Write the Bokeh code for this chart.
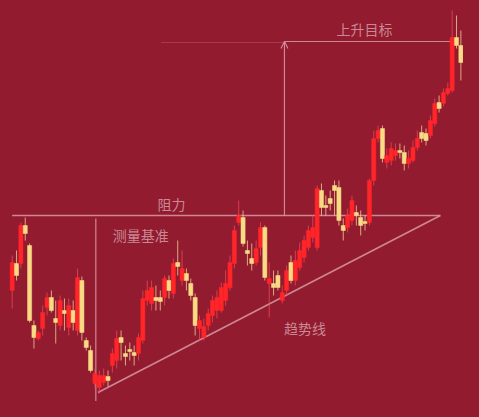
from bokeh.plotting import figure
from bokeh.models import ColumnDataSource, Range1d, Arrow, OpenHead, Label, GlobalInlineStyleSheet
from bokeh.embed import file_html
from bokeh.resources import INLINE

opens = [12.0, 14.7, 14.7, 18.5, 16.5, 8.5, 7.2, 8.2, 10.3, 11.3, 9.2, 8.5, 10.0, 8.3, 10.0, 8.0, 13.0, 7.0, 6.0, 2.7,
         2.3, 2.8, 3.4, 4.5, 5.0, 7.3, 5.7, 6.1, 5.8, 5.7, 7.0, 11.0, 10.7, 11.3, 11.3, 11.3, 13.0, 11.7, 14.8, 13.0,
         13.7, 12.7, 11.3, 8.2, 7.3, 8.5, 9.5, 10.0, 10.0, 11.0, 12.3, 14.7, 18.8, 19.3, 16.0, 15.2, 14.8, 16.3, 18.3, 12.7,
         12.7, 13.5, 11.0, 12.0, 14.8, 13.0, 14.3, 15.3, 16.3, 17.3, 16.3, 22.0, 20.5, 21.2, 22.5, 22.3, 18.5, 18.3, 19.0, 19.8,
         19.3, 18.9, 18.8, 23.0, 27.2, 28.2, 24.8, 25.0, 25.5, 26.0, 25.8, 24.7, 25.0, 26.3, 27.8, 27.7, 27.5, 28.7, 30.8, 30.7,
         31.7, 32.0, 37.3, 36.5]
closes = [14.8, 13.5, 18.5, 17.7, 9.0, 7.3, 7.8, 9.8, 11.3, 10.0, 8.8, 11.0, 9.7, 10.5, 8.8, 13.3, 7.8, 6.3, 4.0, 3.7,
          3.5, 3.5, 3.0, 5.7, 7.2, 6.8, 5.4, 5.9, 5.5, 7.3, 11.2, 12.0, 12.3, 11.0, 10.9, 13.2, 12.0, 14.7, 14.4, 14.2,
          13.0, 11.5, 8.5, 9.0, 8.4, 9.7, 11.0, 11.3, 12.3, 12.7, 14.8, 18.0, 19.5, 16.7, 15.7, 14.7, 16.2, 18.3, 13.3, 13.2,
          12.3, 12.3, 11.8, 14.0, 13.0, 15.0, 16.0, 17.0, 18.0, 18.3, 22.2, 20.3, 20.3, 20.7, 22.0, 19.0, 18.0, 19.5, 21.0, 19.5,
          18.5, 18.7, 23.0, 27.2, 28.0, 25.2, 25.5, 26.2, 26.0, 25.8, 24.7, 25.2, 26.3, 27.2, 27.2, 27.0, 29.0, 30.7, 30.2, 31.8,
          32.2, 37.3, 36.5, 34.8]
highs = [15.5, 16.0, 18.8, 19.3, 16.7, 9.0, 8.0, 10.5, 11.8, 12.0, 11.0, 11.5, 11.2, 11.2, 11.0, 14.2, 13.4, 7.3, 6.5, 4.2,
         4.0, 4.2, 4.0, 6.2, 8.0, 8.0, 6.5, 6.8, 6.5, 7.7, 12.0, 13.0, 13.0, 12.5, 12.0, 13.5, 13.5, 15.2, 17.0, 16.0,
         14.2, 13.2, 11.7, 9.5, 9.2, 10.2, 11.5, 12.0, 12.8, 14.0, 15.5, 18.5, 21.0, 20.0, 17.0, 16.7, 17.0, 18.8, 18.5, 14.8,
         14.0, 14.0, 12.5, 14.5, 15.5, 16.0, 16.8, 17.5, 18.5, 19.5, 22.5, 22.7, 21.5, 22.0, 23.0, 23.0, 19.2, 20.2, 21.5, 20.5,
         20.0, 19.5, 23.2, 28.0, 28.5, 28.5, 26.2, 26.8, 26.7, 26.7, 26.5, 26.0, 27.0, 28.0, 28.5, 28.2, 29.5, 31.2, 31.5, 32.2,
         32.8, 40.0, 39.5, 38.0]
lows = [10.2, 13.0, 14.2, 17.0, 8.8, 6.2, 7.0, 7.5, 9.5, 9.8, 6.7, 8.0, 8.0, 7.5, 8.0, 7.5, 7.0, 6.0, 3.8, 2.2,
        1.7, 2.5, 2.4, 3.8, 4.2, 5.0, 4.5, 5.0, 4.5, 5.0, 6.7, 10.5, 10.0, 10.0, 10.0, 10.5, 11.2, 11.2, 13.5, 12.5,
        12.0, 11.0, 7.5, 7.0, 7.0, 8.0, 8.8, 9.2, 9.8, 10.5, 12.0, 14.2, 18.5, 16.4, 14.5, 14.0, 14.5, 15.5, 13.0, 9.3,
        11.5, 12.0, 10.7, 11.5, 12.7, 12.5, 14.0, 14.8, 16.0, 16.8, 16.0, 19.5, 19.5, 20.0, 19.5, 18.5, 17.0, 17.8, 18.5, 18.5,
        17.5, 18.0, 18.5, 22.5, 26.8, 24.8, 24.2, 24.5, 25.0, 25.2, 24.0, 24.2, 24.8, 26.0, 26.8, 26.5, 27.2, 28.4, 29.8, 30.4,
        31.5, 31.8, 36.2, 33.0]

labels = ["上升目标", "阻力", "测量基准", "趋势线"]
resistance = 19.5
target = 36.9

BG = "#921b2f"
UP = "#ff2528"
DOWN = "#f8db84"
LINE = "#d99aa6"
TXT = "#c98894"

n = len(opens)
xs = list(range(n))
colors = [UP if c >= o else DOWN for o, c in zip(opens, closes)]
wick_colors = ["#f04a58" if c >= o else "#f0d8a0" for o, c in zip(opens, closes)]
tops = [max(o, c) for o, c in zip(opens, closes)]
bots = [min(o, c) for o, c in zip(opens, closes)]
src = ColumnDataSource(dict(x=xs, high=highs, low=lows, top=tops, bottom=bots,
                            color=colors, wcolor=wick_colors))

p = figure(width=463, height=401, output_backend="svg", toolbar_location=None,
           x_range=Range1d(-2.68, 103.6), y_range=Range1d(0.9, 41.0),
           min_border=0, background_fill_color=BG, border_fill_color=BG)
p.axis.visible = False
p.grid.visible = False
p.outline_line_color = None
p.stylesheets = [GlobalInlineStyleSheet(css="html, body { background-color: %s; }" % BG)]

# lines
p.line([0, 98.3], [resistance, resistance], line_color=LINE, line_width=1.3, line_alpha=0.85)
p.line([19.7, 98.3], [1.8, resistance], line_color=LINE, line_width=1.6, line_alpha=0.85)
p.line([19.2, 19.2], [19.2, 0.9], line_color=LINE, line_width=1.2, line_alpha=0.85)
p.line([62.5, 101.2], [target, target], line_color=LINE, line_width=1.2, line_alpha=0.85)
p.line([34.2, 62.5], [target - 0.1, target - 0.1], line_color=LINE, line_width=1, line_alpha=0.25)
p.add_layout(Arrow(end=OpenHead(size=7, line_color=LINE, line_width=1.2, line_alpha=0.85),
                   x_start=62.5, y_start=resistance, x_end=62.5, y_end=target,
                   line_color=LINE, line_width=1.2, line_alpha=0.85))

# candles
p.segment(x0="x", y0="high", x1="x", y1="low", source=src, line_color="wcolor", line_width=1, line_alpha=0.75)
p.vbar(x="x", width=0.95, top="top", bottom="bottom", source=src, fill_color="color", line_color="color", line_width=0.5)

# labels
pos = [(80.9, 38.2), (36.6, 20.7), (29.5, 17.6), (67.2, 8.3)]
for t, (lx, ly) in zip(labels, pos):
    p.add_layout(Label(x=lx, y=ly, text=t, text_align="center", text_baseline="middle",
                       text_color=TXT, text_font="Noto Sans CJK SC", text_font_size="14px"))

open("out.html", "w").write(file_html(p, INLINE))
